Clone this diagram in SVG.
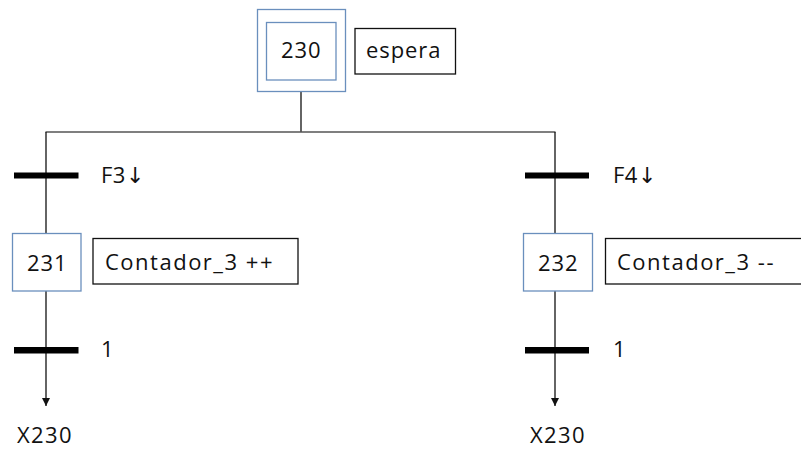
<svg xmlns="http://www.w3.org/2000/svg" width="801" height="450" viewBox="0 0 801 450">
<style>
.step{fill:#fff;stroke:#6a8fbd;stroke-width:1.3}
.act{fill:#fff;stroke:#111;stroke-width:1.3}
.t{font-family:"Open Sans","Liberation Sans",sans-serif;font-size:22px;letter-spacing:0.5px;fill:#111}
.arr{font-family:"DejaVu Sans",sans-serif;font-weight:normal}
.ln{stroke:#111;stroke-width:1.3;fill:none}
.bar{fill:#000}
</style>
<defs>
<marker id="ah" markerWidth="8" markerHeight="8" refX="8" refY="4" orient="auto" markerUnits="userSpaceOnUse" viewBox="0 0 8 8">
<path d="M0,0 L8,4 L0,8 Z" fill="#111"/>
</marker>
</defs>
<rect width="801" height="450" fill="#fff"/>
<g id="connectors">
<line class="ln" x1="301" y1="92" x2="301" y2="132"/>
<line x1="45.5" y1="132" x2="555.5" y2="132" stroke="#555" stroke-width="1.6"/>
<line class="ln" x1="46" y1="132" x2="46" y2="233"/>
<line class="ln" x1="555" y1="132" x2="555" y2="233"/>
<line class="ln" x1="46" y1="291" x2="46" y2="406" marker-end="url(#ah)"/>
<line class="ln" x1="555" y1="291" x2="555" y2="406" marker-end="url(#ah)"/>
</g>
<g id="step230">
<rect class="step" x="257.5" y="9.5" width="88" height="82"/>
<rect class="step" x="266.5" y="22.5" width="69.5" height="57.5"/>
<text class="t" x="281" y="58" textLength="40">230</text>
</g>
<g id="action230">
<rect class="act" x="355" y="28.5" width="100.5" height="45.5"/>
<text class="t" x="366" y="58" textLength="75">espera</text>
</g>
<g id="trans_F3">
<rect class="bar" x="14" y="172.5" width="64.5" height="6"/>
<text class="t" x="101" y="183">F3<tspan class="arr">↓</tspan></text>
</g>
<g id="trans_F4">
<rect class="bar" x="525" y="172.5" width="64" height="6"/>
<text class="t" x="613" y="183">F4<tspan class="arr">↓</tspan></text>
</g>
<g id="step231">
<rect class="step" x="12.5" y="233.5" width="68.5" height="57.5"/>
<text class="t" x="27" y="271" textLength="40">231</text>
</g>
<g id="action231">
<rect class="act" x="93" y="238.5" width="205" height="45.5"/>
<text class="t" x="105" y="270" textLength="168">Contador_3 ++</text>
</g>
<g id="step232">
<rect class="step" x="523.5" y="233.5" width="69" height="57.5"/>
<text class="t" x="538" y="271" textLength="40">232</text>
</g>
<g id="action232">
<rect class="act" x="605.5" y="238.5" width="220" height="45.5"/>
<text class="t" x="617" y="270" textLength="157">Contador_3 --</text>
</g>
<g id="trans_1_left">
<rect class="bar" x="14" y="347" width="64.5" height="6.5"/>
<text class="t" x="101" y="357">1</text>
</g>
<g id="trans_1_right">
<rect class="bar" x="525" y="347" width="64" height="6.5"/>
<text class="t" x="613" y="357">1</text>
</g>
<g id="jump_left">
<text class="t" x="17" y="443" textLength="55">X230</text>
</g>
<g id="jump_right">
<text class="t" x="530" y="443" textLength="55">X230</text>
</g>
</svg>
